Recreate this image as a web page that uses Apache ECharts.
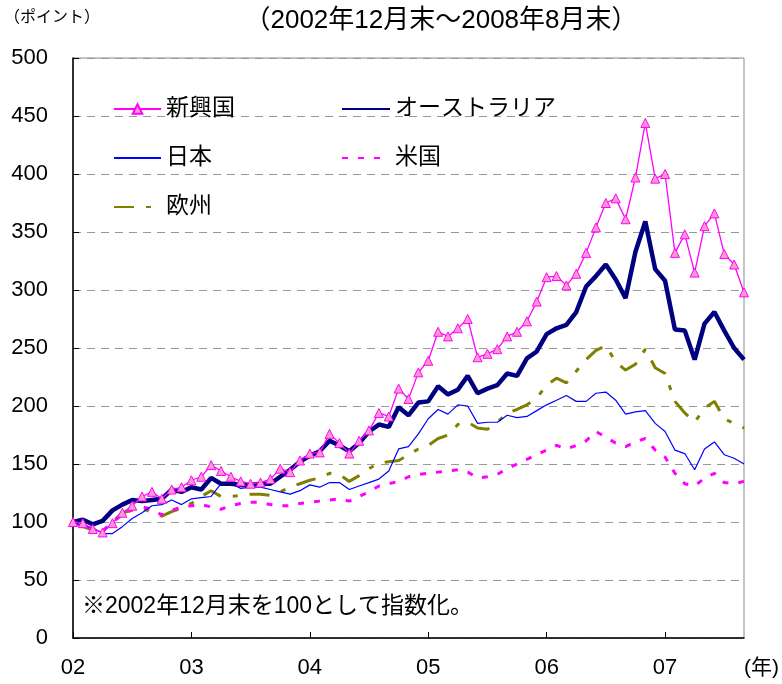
<!DOCTYPE html>
<html>
<head>
<meta charset="utf-8">
<script src="https://cdn.jsdelivr.net/npm/echarts@6/dist/echarts.min.js"></script>
<style>
html, body { margin: 0; padding: 0; background: #fff; }
#main { width: 782px; height: 684px; }
</style>
</head>
<body>
<div id="main"></div>
<script>
// 月末ラベル（2002/12～2008/08）
let months = [];
for (let y = 2002, m = 12; y < 2008 || m <= 8; ) {
    months.push(y + '/' + (m < 10 ? '0' + m : m));
    m++;
    if (m > 12) { m = 1; y++; }
}

// 指数（2002年12月末=100）
const emerging = [100, 99, 94, 91, 99, 108, 114, 122, 126, 120, 128, 130, 136, 139, 149, 144, 139, 135, 133, 134,
    137, 146, 143, 153, 159, 160, 176, 168, 159, 170, 179, 194, 191, 215, 206, 229, 239, 264, 260, 267,
    275, 242, 245, 249, 260, 264, 273, 290, 311, 312, 304, 314, 332, 354, 375, 379, 361, 397, 444, 396,
    400, 332, 348, 315, 355, 366, 331, 322, 298];
const australia = [100, 102, 98, 101, 110, 115, 119, 118, 119, 120, 128, 126, 130, 128, 138, 133, 133, 132, 132, 133,
    133, 139, 145, 152, 157, 161, 170, 166, 161, 168, 178, 184, 182, 199, 192, 203, 204, 217, 210, 214,
    226, 211, 215, 218, 228, 226, 241, 247, 262, 267, 270, 281, 303, 312, 322, 309, 293, 333, 359, 318,
    308, 266, 265, 240, 271, 281, 265, 250, 240];
const japan = [100, 97, 95, 90, 90, 96, 103, 108, 114, 115, 119, 115, 120, 121, 122, 133, 133, 129, 130, 130,
    128, 126, 124, 127, 132, 130, 134, 134, 128, 131, 134, 137, 144, 163, 165, 176, 189, 197, 193, 201,
    200, 185, 186, 186, 192, 190, 191, 196, 201, 205, 209, 204, 204, 211, 212, 205, 193, 195, 196, 185,
    178, 162, 159, 145, 163, 169, 158, 155, 150];
const usa = [100, 97, 94, 92, 100, 106, 111, 113, 111, 106, 110, 113, 114, 115, 113, 111, 114, 116, 117, 117,
    115, 114, 114, 116, 117, 118, 119, 120, 118, 122, 126, 131, 133, 135, 139, 141, 142, 143, 144, 145,
    143, 138, 139, 141, 146, 150, 154, 158, 162, 166, 163, 166, 170, 178, 173, 168, 165, 169, 172, 162,
    156, 142, 133, 131, 138, 142, 134, 133, 135];
const europe = [100, 96, 93, 92, 100, 108, 110, 112, 108, 105, 109, 112, 116, 122, 127, 122, 122, 123, 124, 124,
    123, 126, 130, 133, 136, 138, 142, 141, 135, 140, 146, 151, 152, 153, 158, 163, 166, 172, 175, 184,
    186, 181, 180, 186, 194, 197, 201, 207, 218, 224, 220, 230, 240, 248, 252, 238, 231, 236, 249, 233,
    228, 204, 194, 186, 198, 204, 189, 185, 181];

const FONT = '"Liberation Sans", "Noto Sans CJK JP", sans-serif';
const noSym = { opacity: 0 };

let EC = echarts.init(document.getElementById('main'));

let option = {
    backgroundColor: '#fff',
    animation: false,
    textStyle: { fontFamily: FONT },
    title: {
        text: '（2002年12月末～2008年8月末）',
        left: 441,
        textAlign: 'center',
        top: 8,
        padding: 0,
        textStyle: { fontSize: 26, fontWeight: 'normal', color: '#000', fontFamily: FONT }
    },
    grid: {
        left: 73,
        right: 38,
        top: 58,
        bottom: 46,
        show: true,
        borderColor: '#888',
        borderWidth: 1
    },
    legend: [{
        orient: 'vertical',
        left: 113,
        top: 97,
        padding: 0,
        itemWidth: 47,
        itemHeight: 12,
        itemGap: 25,
        data: ['新興国', { name: '日本', itemStyle: noSym }, { name: '欧州', itemStyle: noSym }],
        textStyle: { fontSize: 23, color: '#000', lineHeight: 24, fontFamily: FONT }
    }, {
        orient: 'vertical',
        left: 341,
        top: 97,
        padding: 0,
        itemWidth: 48,
        itemHeight: 12,
        itemGap: 25,
        data: [{ name: 'オーストラリア', itemStyle: noSym }, { name: '米国', itemStyle: noSym }],
        textStyle: { fontSize: 23, color: '#000', lineHeight: 24, fontFamily: FONT }
    }],
    xAxis: {
        type: 'category',
        boundaryGap: false,
        data: months,
        axisLine: { lineStyle: { color: '#000', width: 1.5 } },
        axisTick: {
            inside: true,
            length: 6,
            interval: function (idx) { return idx % 12 === 0; },
            lineStyle: { color: '#000' }
        },
        axisLabel: {
            interval: function (idx) { return idx % 12 === 0; },
            formatter: function (v) { return v.slice(2, 4); },
            fontSize: 22,
            color: '#000',
            margin: 19
        },
        splitLine: { show: false }
    },
    yAxis: {
        type: 'value',
        min: 0,
        max: 500,
        interval: 50,
        axisLine: { show: true, lineStyle: { color: '#000', width: 1.5 } },
        axisTick: { show: true, inside: true, length: 6, lineStyle: { color: '#000' } },
        axisLabel: { fontSize: 22, color: '#000', margin: 25 },
        splitLine: { lineStyle: { color: '#999', type: [8, 6], width: 1 } }
    },
    graphic: [{
        type: 'text',
        left: 4,
        top: 10,
        style: { text: '（ポイント）', fontSize: 16, fill: '#000', fontFamily: FONT }
    }, {
        type: 'text',
        left: 744,
        top: 658,
        style: { text: '(年)', fontSize: 21, fill: '#000', fontFamily: FONT }
    }, {
        type: 'text',
        left: 82,
        top: 595,
        style: { text: '※2002年12月末を100として指数化。', fontSize: 23, fill: '#000', fontFamily: FONT }
    }],
    series: [{
        name: '欧州',
        type: 'line',
        data: europe,
        symbol: 'none',
        lineStyle: { color: '#808000', width: 3, type: [20, 12, 5, 12] },
        itemStyle: { color: '#808000' }
    }, {
        name: '米国',
        type: 'line',
        data: usa,
        symbol: 'none',
        lineStyle: { color: '#ff00ff', width: 3, type: [6, 10] },
        itemStyle: { color: '#ff00ff' }
    }, {
        name: '日本',
        type: 'line',
        data: japan,
        symbol: 'none',
        lineStyle: { color: '#0000ff', width: 1.2 },
        itemStyle: { color: '#0000ff' }
    }, {
        name: 'オーストラリア',
        type: 'line',
        data: australia,
        symbol: 'none',
        lineStyle: { color: '#000080', width: 4.5 },
        itemStyle: { color: '#000080' }
    }, {
        name: '新興国',
        type: 'line',
        data: emerging,
        symbol: 'triangle',
        symbolSize: 9,
        showAllSymbol: true,
        lineStyle: { color: '#ff00ff', width: 1.3 },
        itemStyle: { color: '#ff99cc', borderColor: '#ff00ff', borderWidth: 1 }
    }]
};

EC.setOption(option);
</script>
</body>
</html>
